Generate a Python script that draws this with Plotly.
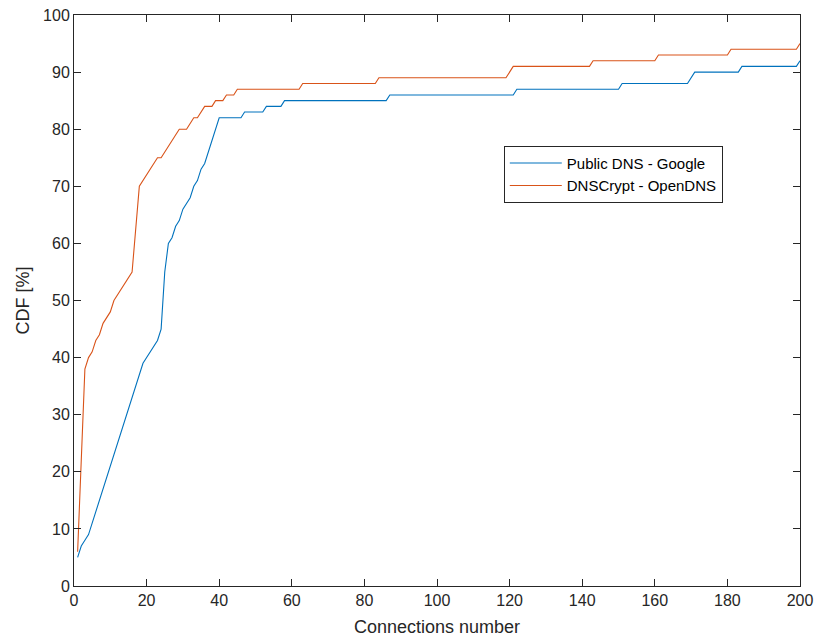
import plotly.graph_objects as go

# Public DNS - Google (x = connections number, y = CDF %)
google_x = [1, 2, 3, 4, 19, 20, 21, 22, 23, 24, 25, 26, 27, 28, 29, 30, 31, 32, 33, 34, 35, 36, 40,
            46, 47, 52, 53, 57, 58, 86, 87, 121, 122, 150, 151, 169, 171, 183, 184, 199, 200]
google_y = [5, 7, 8, 9, 39, 40, 41, 42, 43, 45, 55, 60, 61, 63, 64, 66, 67, 68, 70, 71, 73, 74, 82,
            82, 83, 83, 84, 84, 85, 85, 86, 86, 87, 87, 88, 88, 90, 90, 91, 91, 92]

# DNSCrypt - OpenDNS
opendns_x = [1, 2, 3, 4, 5, 6, 7, 8, 10, 11, 13, 16, 18, 23, 24, 29, 31, 33, 34, 36, 38, 39, 41,
             42, 44, 45, 62, 63, 83, 84, 119, 121, 142, 143, 160, 161, 180, 181, 199, 200]
opendns_y = [6, 22, 38, 40, 41, 43, 44, 46, 48, 50, 52, 55, 70, 75, 75, 80, 80, 82, 82, 84, 84, 85, 85,
             86, 86, 87, 87, 88, 88, 89, 89, 91, 91, 92, 92, 93, 93, 94, 94, 95]

x_ticks = list(range(0, 201, 20))
y_ticks = list(range(0, 101, 10))

axis_color = "#262626"
font_family = "Liberation Sans, Arial, Helvetica, sans-serif"

fig = go.Figure()
fig.add_trace(go.Scatter(x=google_x, y=google_y, mode="lines", name="Public DNS - Google",
                         line=dict(color="#0072BD", width=1.1)))
fig.add_trace(go.Scatter(x=opendns_x, y=opendns_y, mode="lines", name="DNSCrypt - OpenDNS",
                         line=dict(color="#D95319", width=1.1)))

common_axis = dict(
    showline=True, linecolor=axis_color, linewidth=1, mirror="ticks",
    ticks="inside", ticklen=7, tickcolor=axis_color, tickwidth=1,
    showgrid=False, zeroline=False, automargin=False,
    tickfont=dict(size=16, color=axis_color, family=font_family),
)

fig.update_xaxes(range=[0, 200], tickvals=x_ticks,
                 title=dict(text="Connections number", font=dict(size=18, color=axis_color, family=font_family), standoff=12),
                 **common_axis)
fig.update_yaxes(range=[0, 100], tickvals=y_ticks,
                 title=dict(text="CDF [%]", font=dict(size=18, color=axis_color, family=font_family), standoff=8),
                 **common_axis)

fig.update_layout(
    width=817, height=639,
    margin=dict(l=74, r=17, t=15, b=53),
    plot_bgcolor="white", paper_bgcolor="white",
    font=dict(family=font_family, color=axis_color),
    showlegend=True,
    legend=dict(x=0.592, y=0.771, xanchor="left", yanchor="top",
                bgcolor="white", bordercolor=axis_color, borderwidth=1,
                font=dict(size=15, color="black", family=font_family),
                tracegroupgap=0, itemwidth=52),
)

fig.write_html("out.html")
